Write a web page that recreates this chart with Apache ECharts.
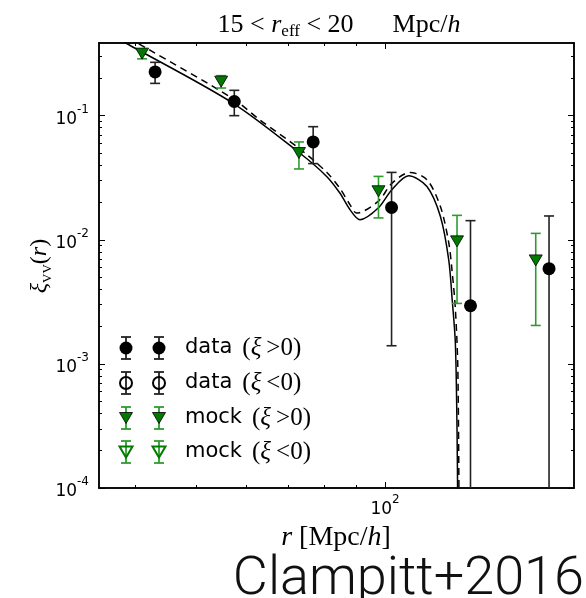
<!DOCTYPE html>
<html><head><meta charset="utf-8">
<script src="https://cdn.jsdelivr.net/npm/echarts@6/dist/echarts.min.js"></script>
<style>html,body{margin:0;padding:0;background:#fff}#c{width:586px;height:598px}</style>
</head><body><div id="c"></div>
<script>
// ---- data ----
const dataR  = [43.0, 57.5, 76.8, 102.4, 136.8, 182.5];
const dataXi = [0.225, 0.130, 0.0614, 0.0182, 0.00294, 0.00585];
const dataLo = [0.182, 0.100, 0.0411, 0.0014, null, null];   // null: below plot
const dataHi = [0.269, 0.160, 0.0815, 0.0349, 0.01426, 0.01555];

const mockR  = [41.0, 54.8, 72.9, 97.6, 130.2, 173.8];
const mockXi = [0.316, 0.188, 0.0500, 0.0246, 0.00971, 0.00682];
const mockLo = [0.287, 0.167, 0.0372, 0.0150, 0.00307, 0.00204];
const mockHi = [0.345, 0.210, 0.0614, 0.0324, 0.01573, 0.01126];

const modelR  = [36.3, 38.6, 57.1, 73.1, 80.7, 84.7, 87.9, 91.2, 97.6, 102.5, 109.0, 116.6, 122.5, 126.3, 127.9, 129.4, 130.2, 130.6];
const modelXi = [0.46, 0.385, 0.127, 0.0500, 0.0324, 0.0238, 0.0175, 0.0145, 0.0181, 0.0253, 0.0328, 0.0269, 0.0154, 0.0069, 0.0033, 0.00148, 0.0003, 0.00005];

const model2R  = [37.5, 41.6, 57.1, 63.1, 73.1, 80.7, 84.7, 87.9, 90.1, 97.6, 102.5, 109.6, 116.6, 122.5, 126.3, 127.9, 129.4, 130.6, 131.2];
const model2Xi = [0.47, 0.351, 0.138, 0.0928, 0.054, 0.035, 0.026, 0.0192, 0.0164, 0.0205, 0.0285, 0.0349, 0.0305, 0.0185, 0.0095, 0.0055, 0.0028, 0.0009, 0.00005];

const xMajorTicks = [100];
const xMinorTicks = [40, 50, 60, 70, 80, 90];
const yMajorTicks = [0.0001, 0.001, 0.01, 0.1];
const yMinorTicks = [0.0002,0.0003,0.0004,0.0005,0.0006,0.0007,0.0008,0.0009,
                     0.002,0.003,0.004,0.005,0.006,0.007,0.008,0.009,
                     0.02,0.03,0.04,0.05,0.06,0.07,0.08,0.09,
                     0.2,0.3];
const legendLabels = [['data', '>0'], ['data', '<0'], ['mock', '>0'], ['mock', '<0']];
const titleText = {a: '15', b: 'eff', c: '20', d: 'Mpc/'};

// ---- chart ----
const SANS = 'DejaVu Sans';
const SERIF = 'Liberation Serif';
const GREEN = '#007a00';
const GREEN_ERR = '#2e9b2e';

function supFmt(v) {
  const e = Math.round(Math.log10(v));
  return '{b|10}{s|' + (e < 0 ? '-' + (-e) : e) + '}';
}
const supRich = {
  b: {fontFamily: SANS, fontSize: 17, lineHeight: 24, color: '#000', verticalAlign: 'bottom'},
  s: {fontFamily: SANS, fontSize: 12, lineHeight: 14, color: '#000', verticalAlign: 'top'}
};

function xAxisDef(pos, ticks, len, labels) {
  return {
    type: 'log', logBase: 10, min: 35, max: 200, position: pos,
    axisLine: {show: true, onZero: false, lineStyle: {color: '#000', width: 1.5}},
    axisTick: {show: true, inside: true, length: len, customValues: ticks, lineStyle: {color: '#000', width: 1}},
    axisLabel: labels ? {show: true, customValues: ticks, margin: 6, formatter: supFmt, rich: supRich} : {show: false},
    splitLine: {show: false}, minorTick: {show: false}
  };
}
function yAxisDef(pos, ticks, len, labels) {
  return {
    type: 'log', logBase: 10, min: 0.0001, max: 0.385, position: pos,
    axisLine: {show: true, onZero: false, lineStyle: {color: '#000', width: 1.5}},
    axisTick: {show: true, inside: true, length: len, customValues: ticks, lineStyle: {color: '#000', width: 1}},
    axisLabel: labels ? {show: true, customValues: ticks, margin: 10, formatter: supFmt, rich: supRich} : {show: false},
    splitLine: {show: false}, minorTick: {show: false}
  };
}

function errRender(color) {
  return function (params, api) {
    const x = api.value(0), hi = api.value(1), lo = api.value(2);
    const cs = params.coordSys;
    const pHi = api.coord([x, hi]);
    const px = pHi[0];
    const hasLo = !(isNaN(lo) || lo === null || lo <= 0);
    const yLo = hasLo ? api.coord([x, lo])[1] : cs.y + cs.height + 10;
    const st = {stroke: color, lineWidth: 1.6};
    const ch = [
      {type: 'line', shape: {x1: px, y1: pHi[1], x2: px, y2: yLo}, style: st},
      {type: 'line', shape: {x1: px - 5, y1: pHi[1], x2: px + 5, y2: pHi[1]}, style: st}
    ];
    if (hasLo) ch.push({type: 'line', shape: {x1: px - 5, y1: yLo, x2: px + 5, y2: yLo}, style: st});
    return {type: 'group', children: ch};
  };
}

// legend graphics
const legendGraphics = [];
const rowY = [348, 383, 418, 452];
const markX = [126, 159];
legendLabels.forEach((lab, i) => {
  const y = rowY[i];
  const isData = lab[0] === 'data';
  const filled = lab[1] === '>0';
  const ecol = isData ? '#222' : GREEN_ERR;
  markX.forEach(x => {
    const st = {stroke: ecol, lineWidth: 1.8};
    legendGraphics.push({type: 'line', shape: {x1: x, y1: y - 11, x2: x, y2: y + 11}, style: st, z: 10});
    legendGraphics.push({type: 'line', shape: {x1: x - 5, y1: y - 11, x2: x + 5, y2: y - 11}, style: st, z: 10});
    legendGraphics.push({type: 'line', shape: {x1: x - 5, y1: y + 11, x2: x + 5, y2: y + 11}, style: st, z: 10});
    if (isData) {
      legendGraphics.push({type: 'circle', shape: {cx: x, cy: y, r: filled ? 6.5 : 6},
        style: filled ? {fill: '#000'} : {fill: 'none', stroke: '#000', lineWidth: 2}, z: 11});
    } else {
      legendGraphics.push({type: 'polygon', shape: {points: [[x - 6.5, y - 5.5], [x + 6.5, y - 5.5], [x, y + 5.5]]},
        style: filled ? {fill: GREEN, stroke: '#000', lineWidth: 0.8} : {fill: 'none', stroke: GREEN, lineWidth: 2}, z: 11});
    }
  });
  legendGraphics.push({type: 'text', x: 185, y: y, z: 11, style: {
    text: '{s|' + lab[0] + '}{p|(}{i|ξ}{m|\u2009' + lab[1] + ')}',
    verticalAlign: 'middle', align: 'left',
    rich: {
      s: {fontFamily: SANS, fontSize: 21, fill: '#000'},
      p: {fontFamily: SERIF, fontSize: 25, fill: '#000', padding: [0, 0, 0, 10]},
      m: {fontFamily: SERIF, fontSize: 25, fill: '#000'},
      i: {fontFamily: SERIF, fontSize: 25, fontStyle: 'italic', fill: '#000'}
    }
  }});
});

const chart = echarts.init(document.getElementById('c'), null, {renderer: 'canvas'});
chart.setOption({
  animation: false,
  backgroundColor: '#fff',
  grid: {left: 99, right: 12, top: 43, bottom: 110, show: false},
  xAxis: [
    xAxisDef('bottom', xMajorTicks, 6, true),
    xAxisDef('bottom', xMinorTicks, 3, false),
    xAxisDef('top', xMajorTicks, 6, false),
    xAxisDef('top', xMinorTicks, 3, false)
  ],
  yAxis: [
    yAxisDef('left', yMajorTicks, 6, true),
    yAxisDef('left', yMinorTicks, 3, false),
    yAxisDef('right', yMajorTicks, 6, false),
    yAxisDef('right', yMinorTicks, 3, false)
  ],
  series: [
    {type: 'line', name: 'model', data: modelR.map((r, i) => [r, modelXi[i]]), showSymbol: false,
     smooth: 0.3, clip: true, z: 1,
     lineStyle: {color: '#000', width: 1.5}},
    {type: 'line', name: 'model2', data: model2R.map((r, i) => [r, model2Xi[i]]), showSymbol: false,
     smooth: 0.3, clip: true, z: 1,
     lineStyle: {color: '#000', width: 1.5, type: [7, 5]}},
    {type: 'custom', name: 'mockErr', renderItem: errRender(GREEN_ERR), clip: true, z: 2,
     encode: {x: 0, y: 1},
     data: mockR.map((r, i) => [r, mockHi[i], mockLo[i]])},
    {type: 'custom', name: 'dataErr', renderItem: errRender('#222'), clip: true, z: 2,
     encode: {x: 0, y: 1},
     data: dataR.map((r, i) => [r, dataHi[i], dataLo[i] === null ? 0 : dataLo[i]])},
    {type: 'scatter', name: 'mock', data: mockR.map((r, i) => [r, mockXi[i]]), z: 3,
     symbol: 'triangle', symbolRotate: 180, symbolSize: [13, 11],
     itemStyle: {color: GREEN, borderColor: '#000', borderWidth: 0.8, opacity: 1}},
    {type: 'scatter', name: 'data', data: dataR.map((r, i) => [r, dataXi[i]]), z: 3,
     symbol: 'circle', symbolSize: 13, itemStyle: {color: '#000', opacity: 1}}
  ],
  graphic: legendGraphics.concat([
    {type: 'text', x: 339, y: 25, style: {
      text: '{n|' + titleText.a + ' }{m|< }{i|r}{sub|' + titleText.b + '}{m| < }{n|' + titleText.c + '\u2003\u2002' + titleText.d + '}{i|h}',
      align: 'center', verticalAlign: 'middle',
      rich: {
        n: {fontFamily: SERIF, fontSize: 26, lineHeight: 30, verticalAlign: 'middle', fill: '#000'},
        m: {fontFamily: SERIF, fontSize: 26, lineHeight: 30, verticalAlign: 'middle', fill: '#000'},
        i: {fontFamily: SERIF, fontSize: 26, lineHeight: 30, fontStyle: 'italic', verticalAlign: 'middle', fill: '#000'},
        sub: {fontFamily: SERIF, fontSize: 17, lineHeight: 16, verticalAlign: 'bottom', fill: '#000'}
      }}},
    {type: 'text', x: 336, y: 538, style: {
      text: '{i|r}{n| [Mpc/}{i|h}{n|]}', align: 'center', verticalAlign: 'middle',
      rich: {
        n: {fontFamily: SERIF, fontSize: 28, fill: '#000'},
        i: {fontFamily: SERIF, fontSize: 28, fontStyle: 'italic', fill: '#000'}
      }}},
    {type: 'text', x: 40, y: 266, rotation: Math.PI / 2, style: {
      text: '{i|ξ}{sub|VV}{n|(}{i|r}{n|)}', align: 'center', verticalAlign: 'middle',
      rich: {
        n: {fontFamily: SERIF, fontSize: 24, lineHeight: 28, verticalAlign: 'middle', fill: '#000'},
        i: {fontFamily: SERIF, fontSize: 24, lineHeight: 28, fontStyle: 'italic', verticalAlign: 'middle', fill: '#000'},
        sub: {fontFamily: SERIF, fontSize: 13, lineHeight: 13, verticalAlign: 'bottom', fill: '#000'}
      }}},
    {type: 'text', x: 584, y: 580, style: {
      text: 'Clampitt+2016', align: 'right', verticalAlign: 'middle',
      fontFamily: 'Roboto', fontWeight: 300, fontSize: 54, fill: '#111'}}
  ])
});
</script></body></html>
